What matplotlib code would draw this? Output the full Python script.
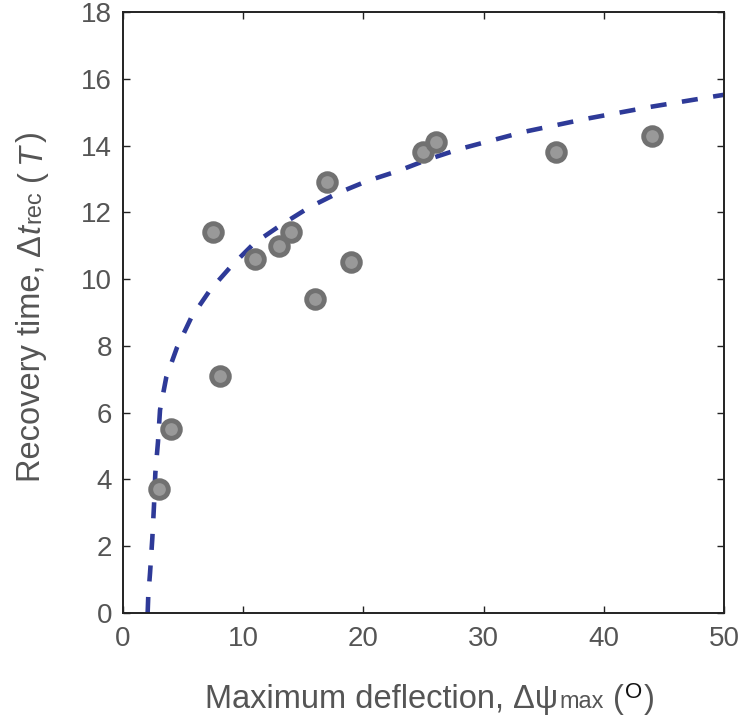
import matplotlib
matplotlib.use("Agg")
import matplotlib.pyplot as plt
from matplotlib.transforms import IdentityTransform
from matplotlib import font_manager

# ---- data ----
deflection = [3.0, 4.0, 7.5, 8.1, 11.0, 13.0, 14.0, 16.0, 17.0, 19.0, 25.0, 26.0, 36.0, 44.0]
recovery = [3.7, 5.5, 11.4, 7.1, 10.6, 11.0, 11.4, 9.4, 12.9, 10.5, 13.8, 14.1, 13.8, 14.3]

fit_x = [2.05, 2.1, 2.25, 2.44, 2.58, 2.69, 2.91, 3.08, 3.6, 4.49, 5.68, 7.24, 8.96,
         10.9, 13.06, 15.5, 17.83, 20.33, 22.9, 25.5, 28.04, 33.36, 38.66, 43.9, 49.3, 50.0]
fit_y = [0.0, 0.49, 1.2, 2.24, 3.23, 4.19, 5.12, 6.08, 7.06, 7.95, 8.85, 9.67, 10.37,
         11.07, 11.6, 12.15, 12.57, 12.94, 13.24, 13.6, 13.9, 14.41, 14.81, 15.16, 15.48, 15.52]

x_ticks = [0, 10, 20, 30, 40, 50]
y_ticks = [0, 2, 4, 6, 8, 10, 12, 14, 16, 18]

# ---- style ----
avail = {f.name for f in font_manager.fontManager.ttflist}
base_font = "Liberation Sans" if "Liberation Sans" in avail else "DejaVu Sans"
plt.rcParams["font.family"] = [base_font, "DejaVu Sans"]

TEXT = "#555555"
W, H, DPI = 742, 722, 100
fig = plt.figure(figsize=(W / DPI, H / DPI), dpi=DPI)
ax = fig.add_axes([123 / W, 1 - 613 / H, (724 - 123) / W, (613 - 12) / H])

ax.plot(fit_x, fit_y, color="#2e3a98", lw=3.3, linestyle=(0, (3.5, 3.4)),
        dash_capstyle="butt", zorder=2)
ax.plot(deflection, recovery, linestyle="none", marker="o", markersize=12.7,
        markerfacecolor="#999999", markeredgecolor="#717171", markeredgewidth=3.5,
        zorder=3)

ax.set_xlim(0, 50)
ax.set_ylim(0, 18)
ax.set_xticks(x_ticks)
ax.set_yticks(y_ticks)
ax.tick_params(direction="in", length=5, width=1.0, color="#222222",
               top=True, right=True, labelsize=20, labelcolor=TEXT)
ax.tick_params(axis="x", pad=9)
ax.tick_params(axis="y", pad=8)
for s in ax.spines.values():
    s.set_linewidth(1.4)
    s.set_color("#222222")

# ---- rich axis labels built from pieces ----
renderer = fig.canvas.get_renderer()


def rich_label(pieces, center, baseline, rotation=0):
    widths = []
    for p in pieces:
        t = fig.text(0, 0, p["s"], fontsize=p["size"], fontstyle=p.get("style", "normal"),
                     family=p.get("family", [base_font, "DejaVu Sans"]),
                     transform=IdentityTransform())
        widths.append(t.get_window_extent(renderer).width)
        t.remove()
    total = sum(widths) + sum(p.get("gap", 0) for p in pieces)
    cur = center - total / 2
    for p, w in zip(pieces, widths):
        cur += p.get("gap", 0)
        dy = p.get("dy", 0)
        kw = dict(fontsize=p["size"], fontstyle=p.get("style", "normal"),
                  family=p.get("family", [base_font, "DejaVu Sans"]),
                  color=p.get("color", TEXT), ha="left", va="baseline",
                  rotation=rotation, rotation_mode="anchor",
                  transform=IdentityTransform())
        if rotation == 0:
            fig.text(cur, baseline + dy, p["s"], **kw)
        else:
            fig.text(baseline - dy, cur, p["s"], **kw)
        cur += w


FS = 23.5
SM = FS * 0.72
px = FS * DPI / 72.0
ylabel_pieces = [
    dict(s="Recovery time,", size=FS),
    dict(s="\u0394", size=FS, gap=0.28 * px),
    dict(s="t", size=FS, style="italic", gap=0.03 * px),
    dict(s="rec", size=SM, gap=0.02 * px),
    dict(s="(", size=FS, gap=0.28 * px),
    dict(s="T", size=FS, style="italic", gap=0.2 * px),
    dict(s=")", size=FS, gap=0.05 * px),
]
xlabel_pieces = [
    dict(s="Maximum deflection,", size=FS),
    dict(s="\u0394\u03c8", size=FS, gap=0.28 * px),
    dict(s="max", size=SM, gap=0.02 * px),
    dict(s="(", size=FS, gap=0.28 * px),
    dict(s="O", size=SM * 0.95, color="#111111", gap=0.05 * px, dy=0.3 * px),
    dict(s=")", size=FS, gap=0.05 * px),
]
rich_label(ylabel_pieces, center=H - 307, baseline=40, rotation=90)
rich_label(xlabel_pieces, center=430, baseline=H - 708, rotation=0)

fig.savefig("out.png", dpi=DPI)
